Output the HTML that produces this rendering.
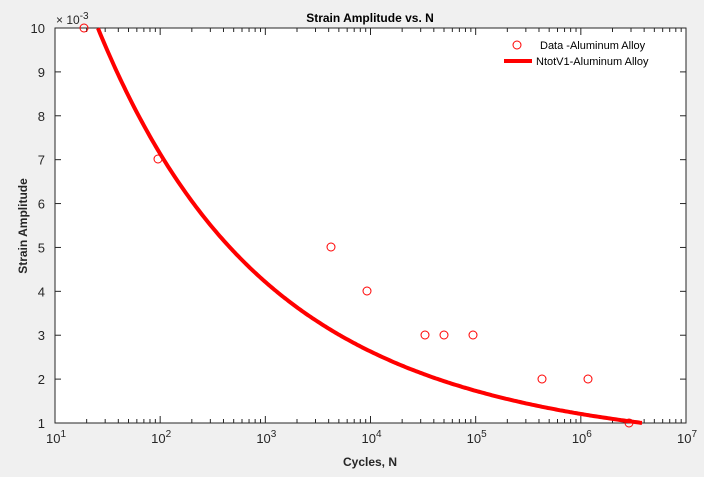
<!DOCTYPE html>
<html><head><meta charset="utf-8"><style>
body{margin:0;background:#f0f0f0;}
svg{display:block;font-family:"Liberation Sans",sans-serif;}
</style></head><body>
<svg width="704" height="477" viewBox="0 0 704 477">
<rect x="0" y="0" width="704" height="477" fill="#f0f0f0"/>
<rect x="55" y="28" width="631" height="395" fill="#fff" stroke="#262626" stroke-width="1"/>
<g stroke="#262626" stroke-width="1" id="ticks"></g>
<g font-size="13" fill="#262626" text-anchor="end" id="ylab"></g>
<g font-size="13" fill="#262626" id="xlab"></g>
<text x="56" y="24" font-size="12" fill="#262626">× 10<tspan dy="-5" font-size="10">-3</tspan></text>
<text x="370" y="22" font-size="12" font-weight="bold" text-anchor="middle" fill="#000">Strain Amplitude vs. N</text>
<text x="370" y="466" font-size="12" font-weight="bold" text-anchor="middle" fill="#262626">Cycles, N</text>
<text transform="translate(27,226) rotate(-90)" font-size="12" font-weight="bold" text-anchor="middle" fill="#262626">Strain Amplitude</text>
<polyline id="curve" points="" fill="none" stroke="#ff0000" stroke-width="4" stroke-linejoin="round"/>
<g fill="none" stroke="#ff0000" stroke-width="1">
<circle cx="84" cy="28" r="4"/><circle cx="158" cy="159" r="4"/><circle cx="331" cy="247" r="4"/><circle cx="367" cy="291" r="4"/><circle cx="425" cy="335" r="4"/><circle cx="444" cy="335" r="4"/><circle cx="473" cy="335" r="4"/><circle cx="542" cy="379" r="4"/><circle cx="588" cy="379" r="4"/><circle cx="629" cy="423" r="4"/>
<circle cx="517" cy="45" r="4"/>
</g>
<line x1="504" y1="61" x2="532" y2="61" stroke="#ff0000" stroke-width="4"/>
<text x="540" y="49" font-size="11" fill="#000">Data -Aluminum Alloy</text>
<text x="536" y="65" font-size="11" fill="#000">NtotV1-Aluminum Alloy</text>
</svg>
<script>
var t=document.getElementById('ticks'),yl=document.getElementById('ylab'),xl=document.getElementById('xlab'),ns="http://www.w3.org/2000/svg";
function L(a,b,c,d){var l=document.createElementNS(ns,'line');l.setAttribute('x1',a);l.setAttribute('y1',b);l.setAttribute('x2',c);l.setAttribute('y2',d);t.appendChild(l);}
for(var v=1;v<=10;v++){var y=423-(v-1)*395/9;L(55,y,61,y);L(686,y,680,y);
var tx=document.createElementNS(ns,'text');tx.setAttribute('x',45);tx.setAttribute('y',y+5);tx.textContent=v;yl.appendChild(tx);}
var pd=631/6;
for(var d=0;d<=6;d++){var x=55+d*pd;L(x,423,x,416);L(x,28,x,35);
var tx=document.createElementNS(ns,'text');tx.setAttribute('x',x-9);tx.setAttribute('y',443);tx.innerHTML='10<tspan dy="-6" font-size="10">'+(d+1)+'</tspan>';xl.appendChild(tx);
if(d<6)for(var m=2;m<=9;m++){var xm=x+Math.log10(m)*pd;L(xm,423,xm,419);L(xm,28,xm,32);}}
var pts=[];
for(var x=98;x<=643;x+=2){var u=1+(x-55)/pd;var le=1.382-0.2881*u+0.01189*u*u;var e=Math.pow(10,le);
if(e>10)e=10;var y=28+(10-e)*395/9;pts.push(x+','+y.toFixed(1));}
document.getElementById('curve').setAttribute('points',pts.join(' '));
</script>
</body></html>
